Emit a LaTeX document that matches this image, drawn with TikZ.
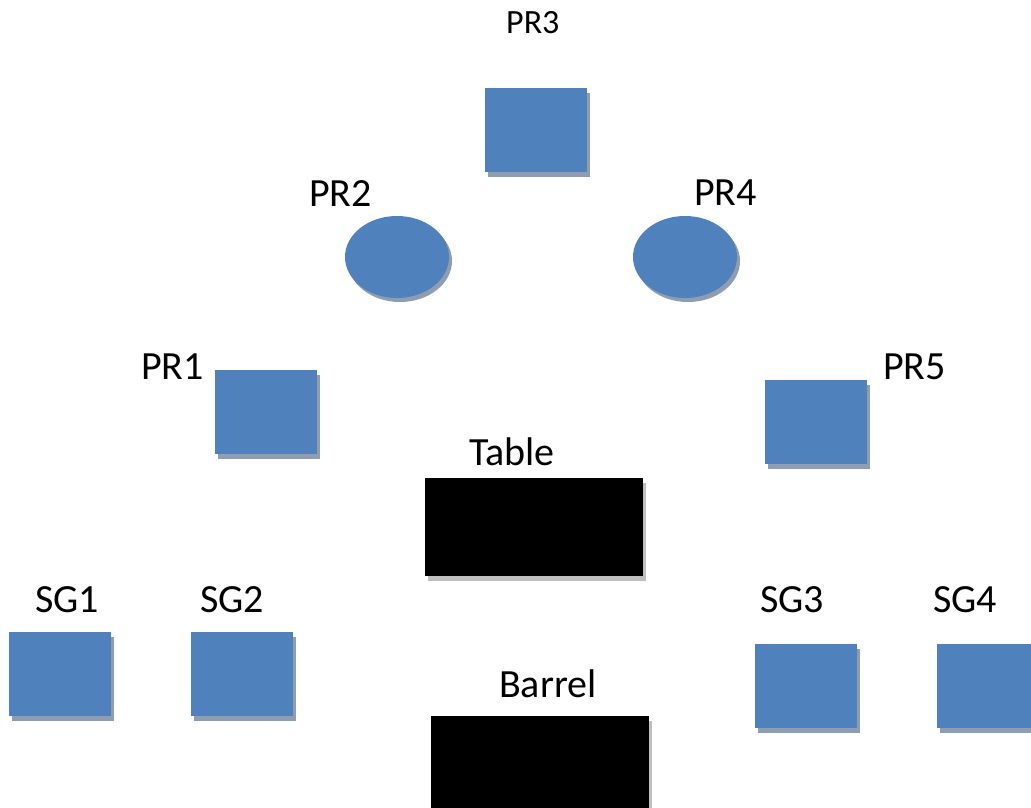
\documentclass[tikz,border=0pt]{standalone}
\usepackage{fontspec}
\setmainfont{Carlito}
\usetikzlibrary{shapes.geometric,shadows}
\definecolor{boxblue}{HTML}{4F81BD}
\definecolor{blueshadow}{HTML}{8E9DB0}
\definecolor{blackshadow}{HTML}{BFBFBF}
\tikzset{
  bluesq/.style={rectangle,fill=boxblue,draw=none,inner sep=0pt,minimum width=102pt,minimum height=84pt,
    drop shadow={shadow xshift=3pt,shadow yshift=-5pt,fill=blueshadow,opacity=1}},
  blueell/.style={ellipse,fill=boxblue,draw=none,inner sep=0pt,minimum width=104pt,minimum height=82pt,
    drop shadow={shadow xshift=3pt,shadow yshift=-4pt,fill=blueshadow,opacity=1}},
  blackbox/.style={rectangle,fill=black,draw=none,inner sep=0pt,minimum width=218pt,minimum height=98pt,
    drop shadow={shadow xshift=3pt,shadow yshift=-5pt,fill=blackshadow,opacity=1}},
  lbl/.style={anchor=base west,inner sep=0pt,font=\fontsize{40}{40}\selectfont},
  smalllbl/.style={anchor=base west,inner sep=0pt,font=\fontsize{34}{34}\selectfont}
}
\begin{document}
\begin{tikzpicture}[x=1pt,y=-1pt]
\useasboundingbox (0,0) rectangle (1031,808);
\clip (0,0) rectangle (1031,808);
\fill[white] (0,0) rectangle (1031,808);
% shapes
\node[bluesq] (pr3) at (536,130) {};
\node[blueell] (pr2) at (397,257) {};
\node[blueell] (pr4) at (685,257) {};
\node[bluesq] (pr1) at (266,412) {};
\node[bluesq] (pr5) at (816,422) {};
\node[blackbox] (table) at (534,527) {};
\node[blackbox] (barrel) at (540,765) {};
\node[bluesq] (sg1) at (60,674) {};
\node[bluesq] (sg2) at (242,674) {};
\node[bluesq] (sg3) at (806,686) {};
\node[bluesq] (sg4) at (988,686) {};
% labels
\node[smalllbl] (lpr3) at (506,34) {PR3};
\node[lbl] (lpr2) at (309,206) {PR2};
\node[lbl] (lpr4) at (694,205) {PR4};
\node[lbl] (lpr1) at (141,379) {PR1};
\node[lbl] (lpr5) at (883,379) {PR5};
\node[lbl] (ltable) at (469,465) {Table};
\node[lbl] (lbarrel) at (499,697) {Barrel};
\node[lbl] (lsg1) at (35,612) {SG1};
\node[lbl] (lsg2) at (200,612) {SG2};
\node[lbl] (lsg3) at (760,612) {SG3};
\node[lbl] (lsg4) at (933,612) {SG4};
\end{tikzpicture}
\end{document}
